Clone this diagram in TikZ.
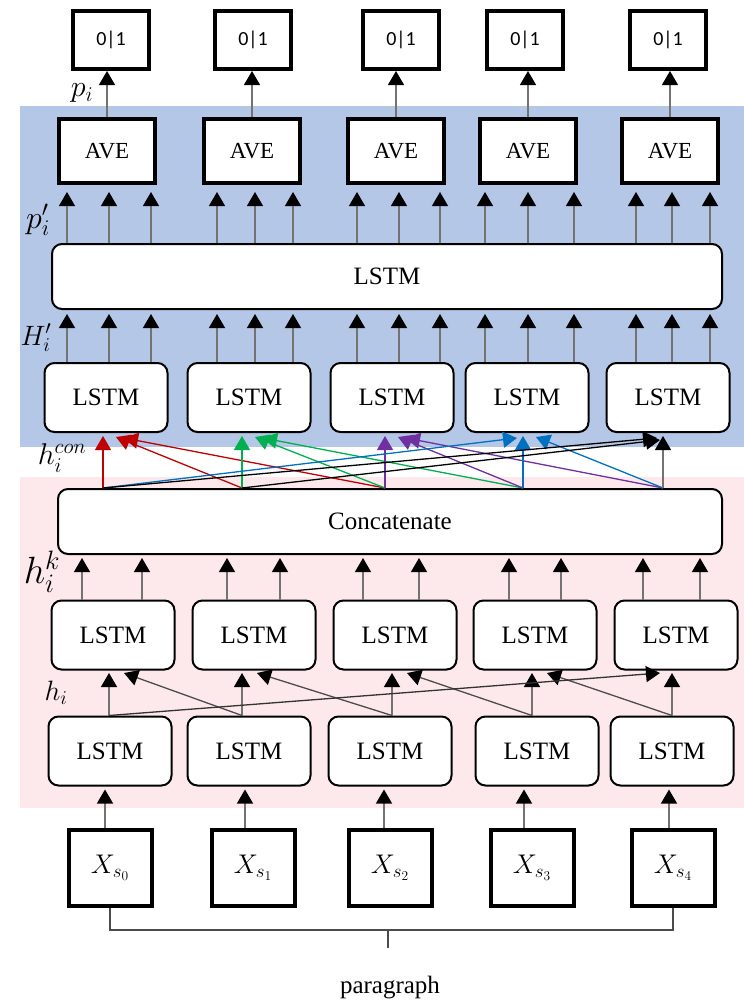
\RequirePackage{fix-cm}
\documentclass[tikz,border=0pt]{standalone}
\usepackage{fontspec}
\setmainfont{Liberation Serif}
\newfontfamily\calibri{Carlito}
\usetikzlibrary{arrows.meta}
\definecolor{topblue}{RGB}{180,199,231}
\definecolor{lowpink}{RGB}{253,233,236}
\definecolor{conred}{RGB}{192,0,0}
\definecolor{congreen}{RGB}{0,176,80}
\definecolor{conpurple}{RGB}{112,48,160}
\definecolor{conblue}{RGB}{0,112,192}
\begin{document}
\begin{tikzpicture}[x=1pt, y=-1pt,
    lstm/.style={draw=black, line width=2pt, rounded corners=10pt, fill=white, minimum width=123pt, minimum height=69pt, font=\fontsize{25}{30}\selectfont},
    wide/.style={lstm, minimum width=670pt, minimum height=65pt},
    ave/.style={draw=black, line width=4pt, fill=white, minimum width=96pt, minimum height=64pt, font=\fontsize{23}{28}\selectfont},
    outbox/.style={draw=black, line width=4pt, fill=white, minimum width=76pt, minimum height=58pt, font=\calibri\fontsize{20}{24}\selectfont},
    inp/.style={draw=black, line width=4pt, fill=white, minimum width=83pt, minimum height=76pt, font=\fontsize{27}{30}\selectfont},
    up/.style={-{Triangle[width=16pt, length=14pt, color=black]}, line width=1.3pt, draw=black!55},
    feed/.style={-{Triangle[width=16pt, length=14pt]}, line width=1.3pt},
    lbl/.style={inner sep=0pt}]
    %Background
    \fill[topblue] (20,106) rectangle (744,447);
    \fill[lowpink] (20,477) rectangle (744,808);
    \useasboundingbox (0,0) rectangle (744,1002);

    %Nodes
    \node[outbox] at (111,40) (o1) {0|1};
    \node[outbox] at (253,40) (o2) {0|1};
    \node[outbox] at (401,40) (o3) {0|1};
    \node[outbox] at (525,40) (o4) {0|1};
    \node[outbox] at (668,40) (o5) {0|1};

    \node[ave] at (107,151) (a1) {AVE};
    \node[ave] at (252,151) (a2) {AVE};
    \node[ave] at (396,151) (a3) {AVE};
    \node[ave] at (528,151) (a4) {AVE};
    \node[ave] at (670,151) (a5) {AVE};

    \node[wide] at (387,276.5) (big) {LSTM};

    \node[lstm] at (106,397.5) (u1) {LSTM};
    \node[lstm] at (249,397.5) (u2) {LSTM};
    \node[lstm] at (392,397.5) (u3) {LSTM};
    \node[lstm] at (527,397.5) (u4) {LSTM};
    \node[lstm] at (668,397.5) (u5) {LSTM};

    \node[wide, minimum width=664pt, font=\fontsize{25}{30}\selectfont] at (390,521.5) (cat) {Concatenate};

    \node[lstm] at (113,635) (m1) {LSTM};
    \node[lstm] at (254,635) (m2) {LSTM};
    \node[lstm] at (395,635) (m3) {LSTM};
    \node[lstm] at (535,635) (m4) {LSTM};
    \node[lstm] at (676,635) (m5) {LSTM};

    \node[lstm] at (110,751) (b1) {LSTM};
    \node[lstm] at (249,751) (b2) {LSTM};
    \node[lstm] at (390,751) (b3) {LSTM};
    \node[lstm] at (537,751) (b4) {LSTM};
    \node[lstm] at (672,751) (b5) {LSTM};

    \node[inp] at (110,868) (x1) {$X_{s_0}$};
    \node[inp] at (253,868) (x2) {$X_{s_1}$};
    \node[inp] at (390,868) (x3) {$X_{s_2}$};
    \node[inp] at (532,868) (x4) {$X_{s_3}$};
    \node[inp] at (673,868) (x5) {$X_{s_4}$};

    \node[font=\fontsize{25}{30}\selectfont] at (390,988) (par) {paragraph};

    %Labels
    \node[lbl, font=\fontsize{30}{30}\selectfont] at (82,93) (lp) {$p_i$};
    \node[lbl, font=\fontsize{32}{32}\selectfont] at (38,220) (lpp) {$p_i'$};
    \node[lbl, font=\fontsize{28}{28}\selectfont] at (36,338) (lH) {$H_i'$};
    \node[lbl, font=\fontsize{30}{30}\selectfont] at (62,458) (lcon) {$h_i^{con}$};
    \node[lbl, font=\fontsize{38}{38}\selectfont] at (42,572) (lk) {$h_i^k$};
    \node[lbl, font=\fontsize{28}{28}\selectfont] at (56,693) (lh) {$h_i$};

    %Lines
    \foreach \i in {1,...,5}
        \draw[up] (a\i.north) -- (a\i.north |- o\i.south);
    \foreach \x/\i in {67/1,109/1,151/1,217/2,255/2,293/2,357/3,399/3,440/3,485/4,528/4,574/4,636/5,672/5,710/5} {
        \draw[up, shorten >=7pt] (big.north -| \x,0) -- (a\i.south -| \x,0);
        \draw[up, shorten >=4pt] (u\i.north -| \x,0) -- (big.south -| \x,0);
    }
    \foreach \x/\i in {82/1,142/1,227/2,280/2,363/3,419/3,509/4,561/4,643/5,700/5}
        \draw[up, shorten >=3pt] (m\i.north -| \x,0) -- (cat.south -| \x,0);

    % concatenate to upper LSTM
    \foreach \i/\x in {1/103,2/242,3/385,4/523,5/663} {
        \coordinate (s\i) at (cat.north -| \x,0);
        \coordinate (t\i) at (\x,436);
        \coordinate (ra\i) at (\x+13,437);
        \coordinate (rb\i) at (\x+21,438);
        \coordinate (la\i) at (\x-6,438);
        \coordinate (lb\i) at (\x-3,440);
    }
    \draw[feed, conred] (s1) -- (t1);
    \draw[feed, conred] (s2) -- (ra1);
    \draw[feed, conred] (s3) -- (rb1);
    \draw[feed, congreen] (s2) -- (t2);
    \draw[feed, congreen] (s3) -- (ra2);
    \draw[feed, congreen] (s4) -- (rb2);
    \draw[feed, conpurple] (s3) -- (t3);
    \draw[feed, conpurple] (s4) -- (ra3);
    \draw[feed, conpurple] (s5) -- (rb3);
    \draw[feed, conblue] (s4) -- (t4);
    \draw[feed, conblue] (s5) -- (ra4);
    \draw[feed, conblue] (s1) -- (la4);
    \draw[feed, black!55, -{Triangle[width=16pt, length=14pt, color=black]}] (s5) -- (t5);
    \draw[feed, black] (s1) -- (la5);
    \draw[feed, black] (s2) -- (lb5);

    % lower LSTM to middle LSTM
    \foreach \i/\x in {1/109,2/242,3/392,4/532,5/672} {
        \coordinate (bt\i) at (b\i.north -| \x,0);
        \coordinate (mt\i) at (\x,673);
        \coordinate (md\i) at (\x+15,673);
        \draw[up] (bt\i) -- (mt\i);
    }
    \draw[up, draw=black!70] (bt2) -- (md1);
    \draw[up, draw=black!70] (bt3) -- (md2);
    \draw[up, draw=black!70] (bt4) -- (md3);
    \draw[up, draw=black!70] (bt5) -- (md4);
    \coordinate (ml5) at (660,673);
    \draw[up, draw=black!80] (bt1) -- (ml5);

    % inputs
    \foreach \i/\x in {1/105,2/245,3/384,4/524,5/669}
        \draw[up, shorten >=3pt] (x\i.north -| \x,0) -- (b\i.south -| \x,0);
    \coordinate (mid) at (388,930);
    \coordinate (br) at (388,948);
    \draw[line width=1.3pt, black!70] (x1.south) -- (x1.south |- mid) -| (x5.south);
    \draw[line width=1.3pt, black!70] (mid) -- (br);

\end{tikzpicture}
\end{document}
